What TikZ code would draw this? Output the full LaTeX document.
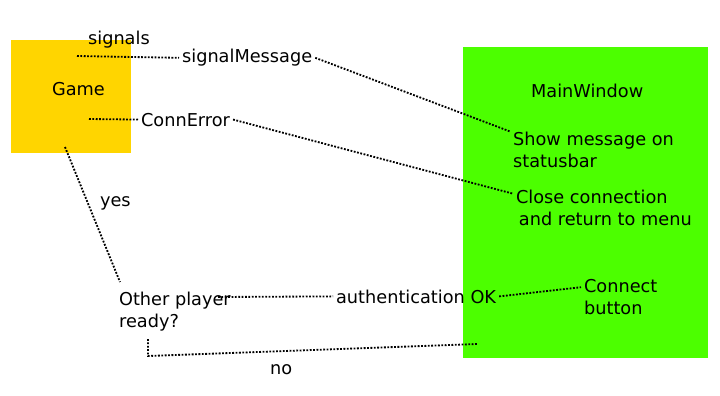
\documentclass[tikz,border=0pt]{standalone}
\usepackage{fontspec}
\setmainfont{DejaVu Sans}
\definecolor{gameyellow}{HTML}{FFD500}
\definecolor{windowgreen}{HTML}{4CFF00}
\tikzset{
  dotline/.style={line width=1.3pt, dash pattern=on 1.3pt off 1.1pt},
  lbl/.style={anchor=base west, inner sep=2pt, align=left,
    font=\fontsize{12.6}{15.5}\selectfont}
}
\begin{document}
\begin{tikzpicture}[x=0.025cm,y=-0.025cm]
    \useasboundingbox (0,0) rectangle (720,395);
    % boxes
    \node (game) [fill=gameyellow, minimum width=3cm, minimum height=2.825cm] at (71,96.5) {};
    \node (window) [fill=windowgreen, minimum width=6.125cm, minimum height=7.75cm] at (585.5,202.5) {};
    % labels (two-line ones sit on their last baseline)
    \node (gamelbl) [lbl] at (49,95) {Game};
    \node (signals) [lbl] at (85,44) {signals};
    \node (sigmsg) [lbl] at (179,62.7) {signalMessage};
    \node (connerr) [lbl] at (138,126) {ConnError};
    \node (winlbl) [lbl] at (528,97) {MainWindow};
    \node (showmsg) [lbl] at (510,167) {Show message on\\statusbar};
    \node (closeconn) [lbl] at (513,225) {Close connection\\\hspace{2pt}and return to menu};
    \node (other) [lbl] at (116,327) {Other player\\ready?};
    \node (auth) [lbl] at (333,303) {authentication OK};
    \node (connect) [lbl] at (581,314) {Connect\\button};
    \node (yes) [lbl] at (97,206) {yes};
    \node (no) [lbl] at (267,374) {no};
    % free ends
    \coordinate (sigstart) at (77,56);
    \coordinate (connstart) at (89,119);
    \coordinate (yesstart) at (65,147);
    \coordinate (yesend) at (120,282);
    \coordinate (authstart) at (218,297);
    \coordinate (nostart) at (148,339);
    \coordinate (nocorner) at (148,356);
    \coordinate (noend) at (477,344);
    % connectors
    \draw[dotline] (sigstart)--(sigmsg.west);
    \draw[dotline] (sigmsg.east)--([yshift=-2pt]showmsg.north west);
    \draw[dotline] (connstart)--(connerr.west);
    \draw[dotline] (connerr.east)--([yshift=-5pt]closeconn.north west);
    \draw[dotline] (yesstart)--(yesend);
    \draw[dotline] (authstart)--(auth.west);
    \draw[dotline] (auth.east)--([yshift=-8pt]connect.north west);
    \draw[dotline] (nostart)--(nocorner)--(noend);
\end{tikzpicture}
\end{document}
